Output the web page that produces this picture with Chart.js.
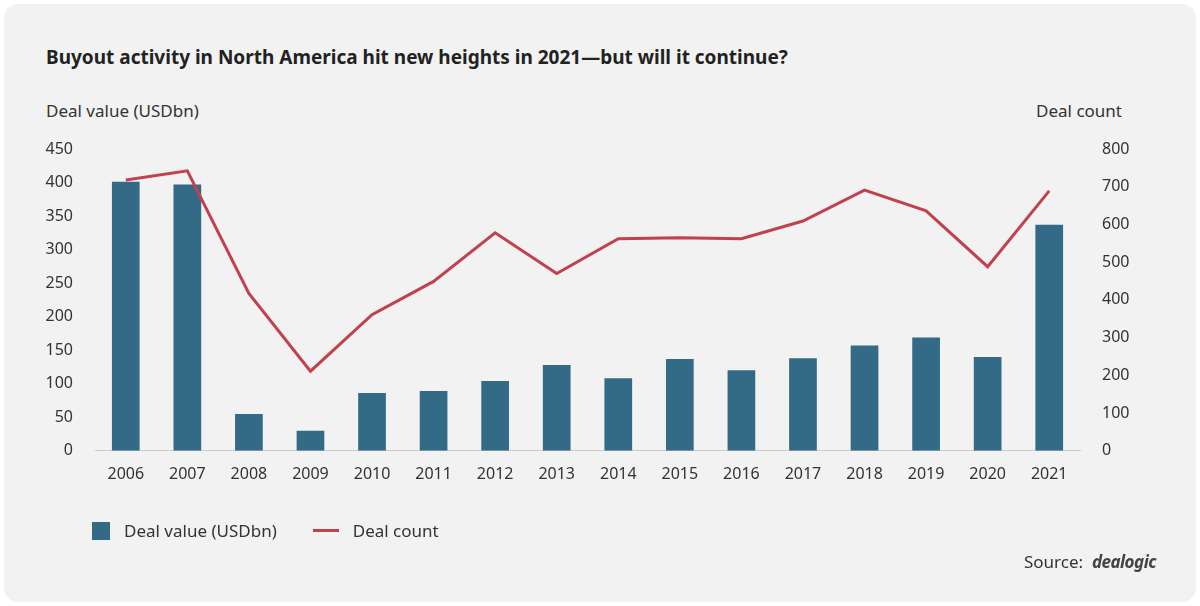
<!DOCTYPE html>
<html><head><meta charset="utf-8">
<script src="https://cdn.jsdelivr.net/npm/chart.js@4"></script>
<style>
body{margin:0;background:#fff;font-family:"Noto Sans",sans-serif;}
#card{position:absolute;left:4px;top:4px;width:1192px;height:598px;background:#f2f2f2;border-radius:14px;}
#title{position:absolute;left:46px;top:44px;font-size:19px;font-weight:bold;color:#222;}
.at{position:absolute;top:99px;font-size:17px;color:#333;}
#leg{position:absolute;left:92px;top:519px;font-size:17px;color:#333;}
#src{position:absolute;right:44px;top:550px;font-size:17px;color:#333;}
canvas{position:absolute;left:0;top:0;}
</style></head><body>
<div id="card"></div>
<div id="title">Buyout activity in North America hit new heights in 2021—but will it continue?</div>
<div class="at" style="left:46px">Deal value (USDbn)</div>
<div class="at" style="right:78px">Deal count</div>
<div id="c" style="position:absolute;left:0;top:0;width:1200px;height:606px"><canvas id="ch"></canvas></div>
<div id="leg"><span style="display:inline-block;width:18px;height:18px;background:#336b87;vertical-align:-3px;margin-right:14px"></span>Deal value (USDbn)<span style="display:inline-block;width:26px;height:3px;background:#c1414f;vertical-align:5px;margin:0 14px 0 36px"></span>Deal count</div>
<div id="src">Source:&nbsp; <i style="font-weight:bold;color:#444;letter-spacing:-0.5px">dealogic</i></div>
<script>
const categories=["2006","2007","2008","2009","2010","2011","2012","2013","2014","2015","2016","2017","2018","2019","2020","2021"];
const dealValue=[401,397,55,30,86,89,104,128,108,137,120,138,157,169,140,337];
const dealCount=[718,742,417,211,361,449,578,470,562,565,562,609,691,636,488,689];
const tickFont={family:"Noto Sans",size:16};
new Chart(document.getElementById('ch'),{
data:{labels:categories,datasets:[
{type:'line',data:dealCount,yAxisID:'y1',borderColor:'#c1414f',borderWidth:3,pointRadius:0,tension:0,order:0},
{type:'bar',data:dealValue,yAxisID:'y',backgroundColor:'#336b87',categoryPercentage:1,barPercentage:0.45,order:1}
]},
options:{responsive:true,maintainAspectRatio:false,animation:false,
layout:{padding:{left:30,right:62,top:149,bottom:116}},
plugins:{legend:{display:false},tooltip:{enabled:false}},
scales:{
x:{grid:{display:false},border:{color:'#ccc'},ticks:{color:'#333',font:tickFont,padding:6}},
y:{min:0,max:450,ticks:{stepSize:50,color:'#333',font:tickFont,padding:14},grid:{display:false},border:{display:false},afterFit(s){s.width=65;}},
y1:{position:'right',min:0,max:800,ticks:{stepSize:100,color:'#333',font:tickFont,padding:14},grid:{display:false},border:{display:false},afterFit(s){s.width=58;}}
}}});
</script></body></html>
